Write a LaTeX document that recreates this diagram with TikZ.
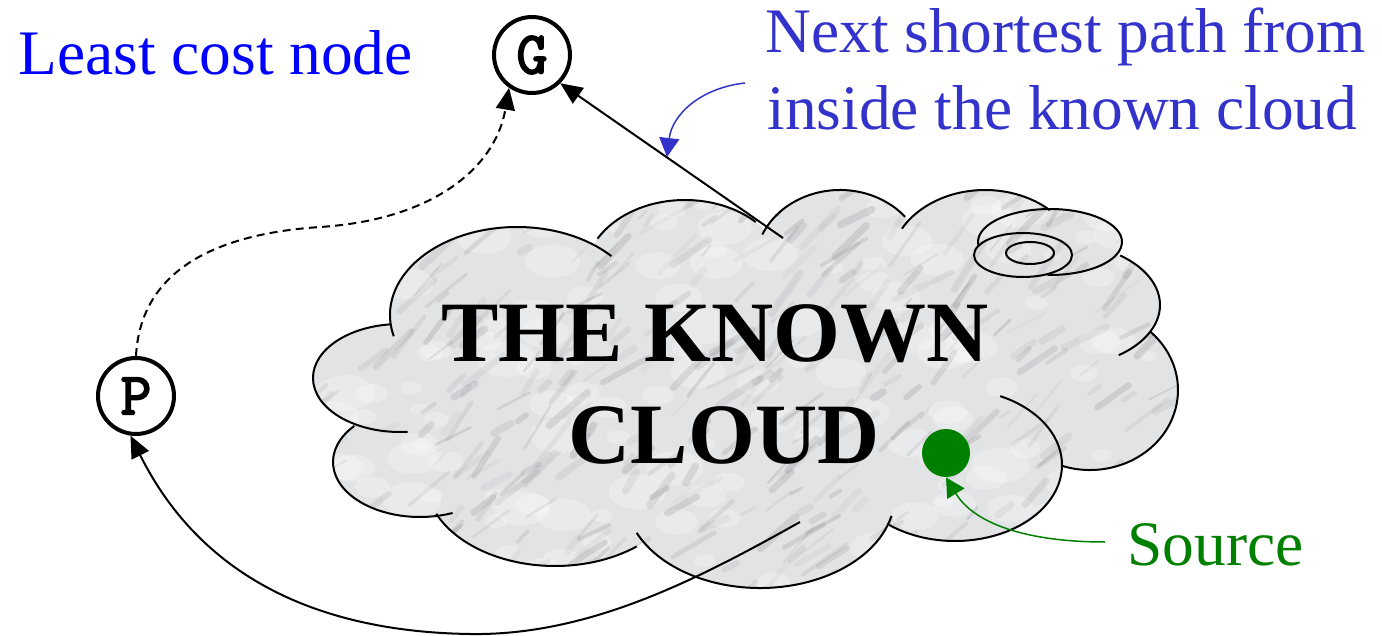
\documentclass[tikz,border=0pt]{standalone}
\usepackage{fontspec}
\setmainfont{Liberation Serif}
\newfontfamily\monob[FakeBold=3]{Latin Modern Mono}
\usetikzlibrary{arrows.meta}
\definecolor{nextblue}{RGB}{51,51,204}
\definecolor{srcgreen}{RGB}{0,128,0}
\definecolor{marble}{RGB}{226,227,229}
\definecolor{vein}{RGB}{110,110,116}
\newcommand\lobe[6]{\draw[cloudline] (#1,#2) ++(#5:#3 and #4) arc[start angle=#5,end angle=#6,x radius=#3,y radius=#4];}
\begin{document}
\begin{tikzpicture}[x=0.5pt,y=-0.5pt,
  cloudline/.style={line width=1pt, line join=round},
  cloudp/.style={insert path={
    (517,315) ellipse [x radius=127, y radius=88]
    (685,275) ellipse [x radius=100, y radius=75]
    (840,265) ellipse [x radius=85, y radius=75]
    (985,265) ellipse [x radius=95, y radius=75]
    (1060,305) ellipse [x radius=100, y radius=62]
    (1090,390) ellipse [x radius=88, y radius=80]
    (955,465) ellipse [x radius=107, y radius=76]
    (760,495) ellipse [x radius=135, y radius=93]
    (555,478) ellipse [x radius=130, y radius=88]
    (420,462) ellipse [x radius=87, y radius=55]
    (400,378) ellipse [x radius=87, y radius=54]
    (1050,242) ellipse [x radius=72, y radius=33]
    (517,315) -- (685,275) -- (840,265) -- (985,265) -- (1060,305) -- (1090,390)
    -- (955,465) -- (760,495) -- (555,478) -- (420,462) -- (400,378) -- cycle}},
  nodecirc/.style={circle, draw, line width=2pt, minimum size=38pt, inner sep=0pt,
    font=\monob\fontsize{30}{30}\selectfont},
  arr/.style={-{Triangle[length=11pt,width=9.5pt]}, line width=1pt},
  thinarr/.style={-{Triangle[length=9.5pt,width=10pt]}, line width=0.75pt},
  lbl/.style={anchor=base west, inner sep=0pt, font=\fontsize{31.7}{38}\selectfont},
  big/.style={anchor=base, inner sep=0pt, font=\bfseries\fontsize{43}{43}\selectfont}
]
\useasboundingbox (0,0) rectangle (1382,636);

% cloud body with marble texture
\begin{scope}
  \clip[cloudp];
  \fill[marble] (290,170) rectangle (1200,610);
  \pgfmathsetseed{7}
  \foreach \i in {1,...,160}{
    \pgfmathsetmacro{\px}{300+900*rnd}
    \pgfmathsetmacro{\py}{180+420*rnd}
    \pgfmathsetmacro{\rr}{8+22*rnd}
    \fill[white, opacity=0.25] (\px,\py) ellipse [x radius=\rr, y radius=0.6*\rr];
  }
  \foreach \i in {1,...,420}{
    \pgfmathsetmacro{\px}{300+900*rnd}
    \pgfmathsetmacro{\py}{180+420*rnd}
    \pgfmathsetmacro{\an}{-25-35*rnd}
    \pgfmathsetmacro{\ln}{10+45*rnd}
    \pgfmathsetmacro{\op}{0.05+0.14*rnd}
    \pgfmathsetmacro{\lw}{0.8+3*rnd}
    \draw[vein, line width=\lw pt, opacity=\op, line cap=round] (\px,\py) -- ++(\an:\ln);
  }
\end{scope}

% cloud outline lobes
\lobe{400}{378}{87}{54}{264}{85}
\lobe{420}{462}{87}{55}{221}{68}
\lobe{555}{478}{130}{88}{156}{51}
\lobe{760}{495}{135}{93}{156}{13}
\lobe{955}{465}{107}{76}{128}{-65}
\lobe{1090}{390}{88}{80}{108}{-47}
\lobe{1060}{305}{100}{62}{-53}{54}
\lobe{985}{265}{95}{75}{209}{313}
\lobe{840}{265}{85}{75}{204}{320}
\lobe{685}{275}{100}{75}{209}{315}
\lobe{517}{315}{127}{88}{166}{318}
% swirl
\draw[cloudline] (1050,242) ++(175:72 and 33) arc[start angle=175,end angle=452,x radius=72,y radius=33];
\draw[cloudline] (1023,255) ellipse [x radius=49, y radius=22];
\draw[cloudline] (1030,253) ellipse [x radius=24, y radius=11];

% texts
\node[big] (t1) at (715,362) {THE KNOWN};
\node[big] (t2) at (724,463) {CLOUD};
\node[lbl, text=blue] (lcn) at (18,75) {Least cost node};
\node[lbl, text=nextblue] (nsp1) at (765,53) {Next shortest path from};
\node[lbl, text=nextblue] (nsp2) at (767,130) {inside the known cloud};
\node[lbl, text=srcgreen] (srct) at (1127,565) {Source};

% nodes
\node[nodecirc] (G) at (532,55) {G};
\node[nodecirc] (P) at (136,396) {P};
\node[circle, fill=srcgreen, minimum size=24pt, inner sep=0pt] (src) at (946,453) {};

% connectors
\coordinate (cloudtop) at (783,238);
\coordinate (cloudbot) at (800,522);
\coordinate (nsl) at (745,83);
\coordinate (pathpt) at (667,157);
\coordinate (srcl) at (1105,542);

\draw[arr] (cloudtop) -- (G.315);
\draw[arr, dash pattern=on 4pt off 2.6pt] (P.north) .. controls (140,280) and (200,235) .. (320,227)
   .. controls (430,220) and (495,170) .. (G.235);
\draw[arr] (cloudbot) .. controls (700,578) and (590,636) .. (470,634)
   .. controls (330,632) and (205,585) .. (P.262);
\draw[thinarr, nextblue] (nsl) .. controls (700,88) and (672,115) .. (pathpt);
\draw[thinarr, srcgreen] (srcl) .. controls (1030,542) and (975,525) .. (src.south);
\end{tikzpicture}
\end{document}
